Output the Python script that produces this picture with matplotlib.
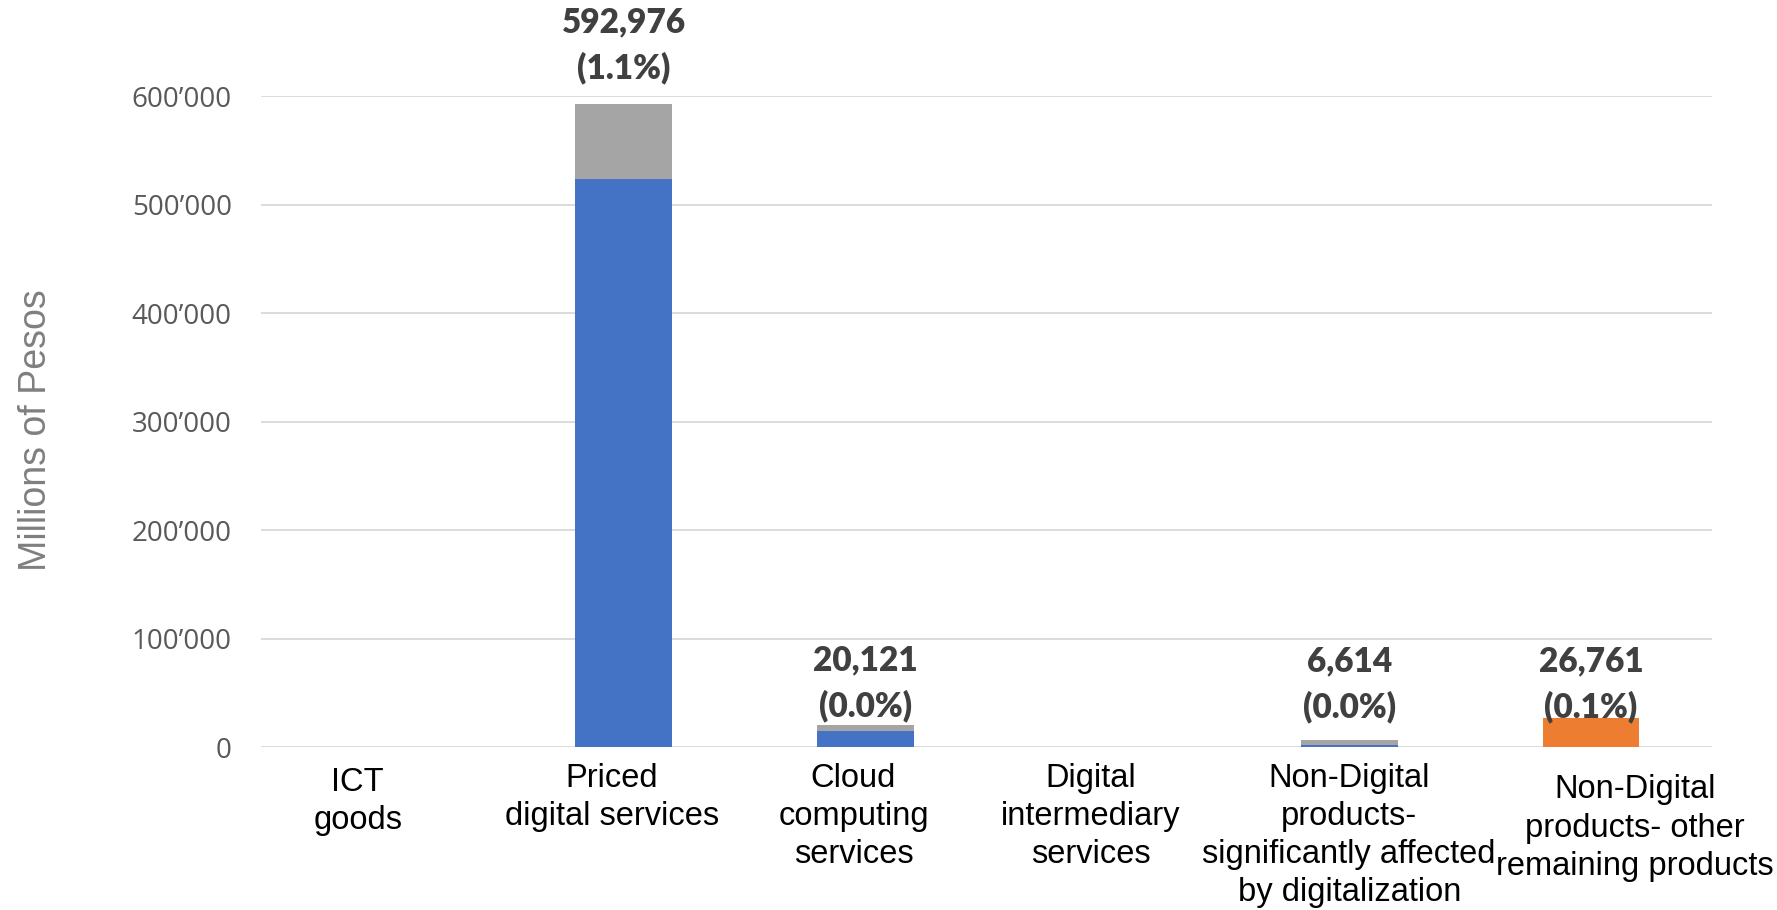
import numpy as np
import matplotlib.pyplot as plt
from matplotlib.ticker import FuncFormatter
import matplotlib.transforms as mtransforms

categories = ["ICT\ngoods", "Priced\ndigital services", "Cloud\ncomputing\nservices",
              "Digital\nintermediary\nservices",
              "Non-Digital\nproducts-\nsignificantly affected\nby digitalization",
              "Non-Digital\nproducts- other\nremaining products"]
blue_part = [0, 524000, 14800, 0, 1800, 0]
grey_part = [0, 68976, 5321, 0, 4814, 0]
orange_part = [0, 0, 0, 0, 0, 26761]
totals = [0, 592976, 20121, 0, 6614, 26761]
shares = ["", "(1.1%)", "(0.0%)", "", "(0.0%)", "(0.1%)"]
yticks = [0, 100000, 200000, 300000, 400000, 500000, 600000]

BLUE = "#4472C4"
GREY = "#A5A5A5"
ORANGE = "#ED7D31"

fig = plt.figure(figsize=(17.77, 9.10), dpi=100)
ax = fig.add_axes([0.1469, 0.179, 0.8165, 0.715])

x = np.arange(len(categories))
w = 0.4
ax.bar(x, blue_part, w, color=BLUE, zorder=3)
ax.bar(x, grey_part, w, bottom=blue_part, color=GREY, zorder=3)
ax.bar(x, orange_part, w, color=ORANGE, zorder=3)

ax.set_xlim(-0.5, len(categories) - 0.5)
ax.set_ylim(0, 600000)
ax.set_yticks(yticks)
ax.yaxis.set_major_formatter(FuncFormatter(lambda v, p: "{:,.0f}".format(v).replace(",", "\u2019")))
ax.grid(axis="y", color="#D9D9D9", linewidth=1.3, zorder=0)
for s in ax.spines.values():
    s.set_visible(False)
ax.tick_params(axis="y", length=0, pad=21, labelsize=20, labelcolor="#595959")
ax.tick_params(axis="x", length=0)
ax.set_xticks([])
for lab in ax.get_yticklabels():
    lab.set_fontfamily("Open Sans")

fig.text(0.02, 0.527, "Millions of Pesos", rotation=90, ha="center", va="center",
         fontsize=27, color="#7F7F7F", family="Liberation Sans")

# category names under the axis
name_shift = [-0.1, -0.05, -0.05, -0.07, 0.0, 0.18]
name_top = [-0.03, -0.024, -0.024, -0.024, -0.024, -0.042]
trans = mtransforms.blended_transform_factory(ax.transData, ax.transAxes)
for i, name in enumerate(categories):
    ax.text(x[i] + name_shift[i], name_top[i], name, transform=trans, ha="center", va="top",
            fontsize=23.5, family="Liberation Sans", color="#000000", linespacing=1.3)

# totals with share above the bars
label_gap = [0, 14, 2, 0, 12, -4]
for i in range(len(categories)):
    if totals[i] == 0:
        continue
    ax.annotate("{:,}\n{}".format(totals[i], shares[i]), (x[i], totals[i]),
                xytext=(0, label_gap[i]), textcoords="offset points", ha="center", va="bottom",
                fontsize=24, fontweight="heavy", family="Lato", color="#404040",
                linespacing=1.5, annotation_clip=False, zorder=4)

fig.savefig("out.png", dpi=100)
